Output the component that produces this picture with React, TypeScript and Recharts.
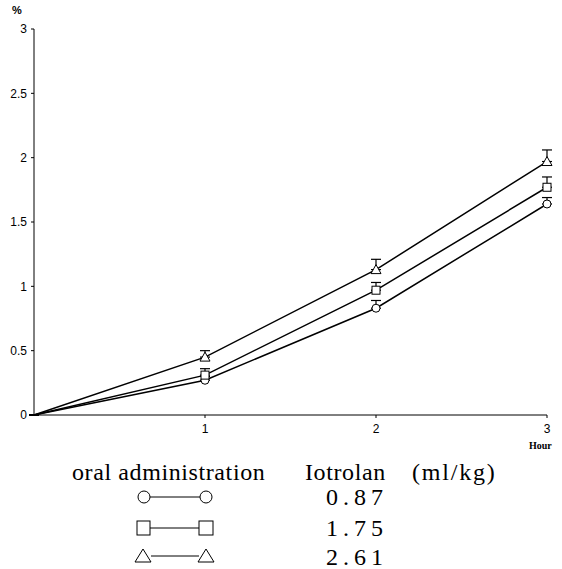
import React from "react";
import { LineChart, Line, XAxis, YAxis, ErrorBar } from "recharts";

const hours = [0, 1, 2, 3];
const dose087 = [0, 0.27, 0.83, 1.64];
const dose087Err = [0, 0.03, 0.06, 0.05];
const dose175 = [0, 0.31, 0.97, 1.77];
const dose175Err = [0, 0.05, 0.06, 0.08];
const dose261 = [0, 0.45, 1.13, 1.97];
const dose261Err = [0, 0.05, 0.08, 0.09];
const yTicks = [0, 0.5, 1, 1.5, 2, 2.5, 3];
const xTicks = [1, 2, 3];

const data = hours.map((h, i) => ({
  hour: h,
  d087: dose087[i],
  e087: [0, dose087Err[i]],
  d175: dose175[i],
  e175: [0, dose175Err[i]],
  d261: dose261[i],
  e261: [0, dose261Err[i]],
}));

const serif = "'Liberation Serif', 'DejaVu Serif', serif";
const sans = "'Liberation Sans', Arial, sans-serif";

const CircleDot = (props: any) => {
  const { cx, cy, index } = props;
  if (index === 0) return <g key={`c-${index}`} />;
  return <circle key={`c-${index}`} cx={cx} cy={cy} r={4} fill="#fff" stroke="#000" strokeWidth={1} />;
};

const SquareDot = (props: any) => {
  const { cx, cy, index } = props;
  if (index === 0) return <g key={`s-${index}`} />;
  return <rect key={`s-${index}`} x={cx - 4} y={cy - 4} width={8} height={8} fill="#fff" stroke="#000" strokeWidth={1} />;
};

const TriangleDot = (props: any) => {
  const { cx, cy, index } = props;
  if (index === 0) return <g key={`t-${index}`} />;
  return (
    <polygon
      key={`t-${index}`}
      points={`${cx},${cy - 5} ${cx + 5},${cy + 4} ${cx - 5},${cy + 4}`}
      fill="#fff"
      stroke="#000"
      strokeWidth={1}
    />
  );
};

const textSerif = { fontFamily: serif, fontSize: 24, fill: "#000", letterSpacing: 0.6 };
const numSerif = { fontFamily: serif, fontSize: 24, fill: "#000", letterSpacing: 5 };

export default function App() {
  return (
    <div style={{ position: "absolute", left: 0, top: 0, width: 562, height: 569, background: "#fff" }}>
      <LineChart
        width={562}
        height={450}
        data={data}
        margin={{ top: 29, right: 15, bottom: 5, left: 0 }}
      >
        <XAxis
          dataKey="hour"
          type="number"
          domain={[0, 3]}
          ticks={xTicks}
          tickSize={3}
          tickMargin={6}
          height={30}
          stroke="#000"
          tick={{ fill: "#000", fontSize: 12, fontFamily: sans }}
        />
        <YAxis
          type="number"
          domain={[0, 3]}
          ticks={yTicks}
          width={34}
          tickSize={3}
          tickMargin={4}
          stroke="#000"
          tick={{ fill: "#000", fontSize: 12, fontFamily: sans }}
        />
        <Line dataKey="d087" stroke="#000" strokeWidth={1.5} dot={CircleDot} isAnimationActive={false}>
          <ErrorBar dataKey="e087" width={5} stroke="#000" strokeWidth={1.2} zIndex={0} />
        </Line>
        <Line dataKey="d175" stroke="#000" strokeWidth={1.5} dot={SquareDot} isAnimationActive={false}>
          <ErrorBar dataKey="e175" width={5} stroke="#000" strokeWidth={1.2} zIndex={0} />
        </Line>
        <Line dataKey="d261" stroke="#000" strokeWidth={1.5} dot={TriangleDot} isAnimationActive={false}>
          <ErrorBar dataKey="e261" width={5} stroke="#000" strokeWidth={1.2} zIndex={0} />
        </Line>
      </LineChart>

      <div style={{ position: "absolute", left: 12, top: 4, fontFamily: sans, fontWeight: "bold", fontSize: 11 }}>%</div>
      <div style={{ position: "absolute", left: 529, top: 440, fontFamily: serif, fontWeight: "bold", fontSize: 10 }}>Hour</div>

      <svg width={562} height={130} style={{ position: "absolute", left: 0, top: 440 }}>
        <text x={72} y={40} style={textSerif}>oral administration</text>
        <text x={305} y={40} style={textSerif}>
          Iotrolan<tspan x={412} letterSpacing={1.8}>(ml/kg)</tspan>
        </text>

        <line x1={150} y1={57} x2={200} y2={57} stroke="#000" strokeWidth={1} />
        <circle cx={144} cy={57} r={6} fill="#fff" stroke="#000" />
        <circle cx={206} cy={57} r={6} fill="#fff" stroke="#000" />
        <text x={326} y={65} style={numSerif}>0.87</text>

        <line x1={150} y1={88} x2={199} y2={88} stroke="#000" strokeWidth={1} />
        <rect x={137} y={81} width={13} height={14} fill="#fff" stroke="#000" />
        <rect x={199} y={81} width={14} height={14} fill="#fff" stroke="#000" />
        <text x={326} y={96} style={numSerif}>1.75</text>

        <line x1={151} y1={116} x2={199} y2={116} stroke="#000" strokeWidth={1} />
        <polygon points="143,109 151,122 135,122" fill="#fff" stroke="#000" />
        <polygon points="206,109 214,122 198,122" fill="#fff" stroke="#000" />
        <text x={326} y={125} style={numSerif}>2.61</text>
      </svg>
    </div>
  );
}
